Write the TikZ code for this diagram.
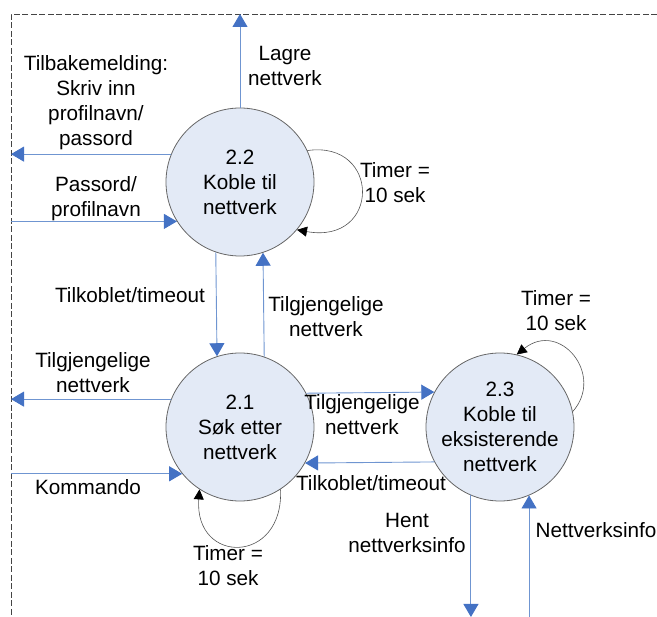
\documentclass[tikz,border=0pt]{standalone}
\usepackage{fontspec}
\setmainfont{Liberation Sans}
\usetikzlibrary{arrows.meta}

\definecolor{procfill}{HTML}{E3EAF6}
\definecolor{procedge}{HTML}{666666}
\definecolor{flowline}{HTML}{6F95D1}
\definecolor{flowhead}{HTML}{4472C4}
\definecolor{framecol}{HTML}{444444}
\definecolor{loopcol}{HTML}{555555}

\newcommand\dfdfont{\fontsize{20.7}{25}\selectfont}

\begin{document}
\begin{tikzpicture}[x=1pt,y=-1pt,
  process/.style={circle, draw=procedge, line width=0.8pt, fill=procfill,
    minimum size=148pt, inner sep=0pt, align=center, font=\dfdfont},
  flow/.style={draw=flowline, line width=0.9pt,
    -{Triangle[width=15pt,length=13pt,color=flowhead]}},
  selfloop/.style={draw=loopcol, line width=0.6pt,
    -{Triangle[width=10pt,length=10pt,color=black]}},
  lbl/.style={align=center, inner sep=0pt, font=\dfdfont},
  frame/.style={draw=framecol, line width=0.9pt, dash pattern=on 6pt off 2.5pt}]

\useasboundingbox (0,0) rectangle (657,617);

% system boundary
\coordinate (ftop) at (0,14);
\coordinate (fleft) at (11,0);
\coordinate (fbot) at (0,617);
\draw[frame] (657,14) -- (11,14) -- (11,617);

% processes
\node[process] (c22) at (240,182) {2.2\\Koble til\\nettverk};
\node[process] (c21) at (240,427) {2.1\\Søk etter\\nettverk};
\node[process] (c23) at (500,427) {2.3\\Koble til\\eksisterende\\nettverk};

% data flows
\draw[flow] (c22.north) -- (c22.north |- ftop);
\draw[flow] (c22.158.6) -- (c22.158.6 -| fleft);
\draw[flow] (c22.212.7 -| fleft) -- (c22.212.7);
\draw[flow] (c22.251.9) -- (c21.108.1);
\draw[flow] (c21.71.9) -- (c22.288.1);
\draw[flow] (c21.158.6) -- (c21.158.6 -| fleft);
\draw[flow] (c21.219.4 -| fleft) -- (c21.219.4);
\draw[flow] (c21.27.3) -- (c23.152.7);
\draw[flow] (c23.208.2) -- (c21.331.8);
\draw[flow] (c23.247.8) -- (c23.247.8 |- fbot);
\draw[flow] (c23.293.9 |- fbot) -- (c23.293.9);

% timer loops
\draw[selfloop] (c22.25) .. controls (381,140) and (381,245) .. (c22.320);
\draw[selfloop] (c21.303) .. controls (284,565) and (194,565) .. (c21.237);
\draw[selfloop] (c23.12) .. controls (605,375) and (560,320) .. (c23.77);

% flow labels
\node[lbl] (t1) at (285,66) {Lagre\\nettverk};
\node[lbl] (t2) at (96,103) {Tilbakemelding:\\Skriv inn\\profilnavn/\\passord};
\node[lbl] (t3) at (96,199) {Passord/\\profilnavn};
\node[lbl] (t4) at (395,183) {Timer =\\10 sek};
\node[lbl] (t5) at (130,295) {Tilkoblet/timeout};
\node[lbl] (t6) at (326,317) {Tilgjengelige\\nettverk};
\node[lbl] (t7) at (93,373) {Tilgjengelige\\nettverk};
\node[lbl] (t8) at (362,415) {Tilgjengelige\\nettverk};
\node[lbl] (t9) at (88,487) {Kommando};
\node[lbl] (t10) at (371,483) {Tilkoblet/timeout};
\node[lbl] (t11) at (228,566) {Timer =\\10 sek};
\node[lbl] (t12) at (407,533) {Hent\\nettverksinfo};
\node[lbl] (t13) at (596,530) {Nettverksinfo};
\node[lbl] (t14) at (556,311) {Timer =\\10 sek};
\end{tikzpicture}
\end{document}
